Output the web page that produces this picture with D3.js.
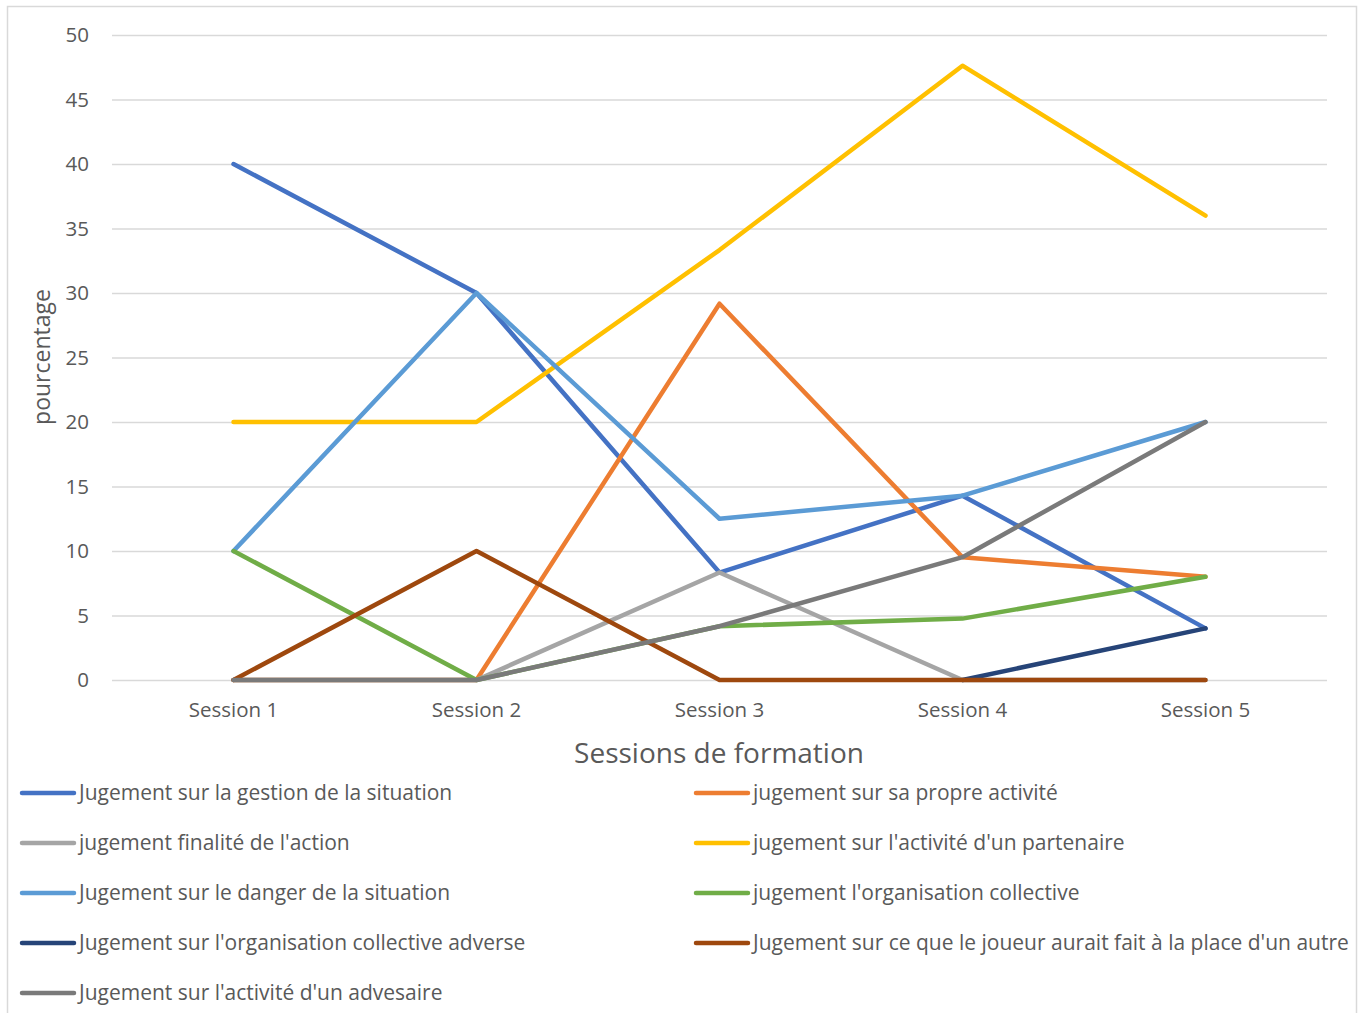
<!DOCTYPE html>
<html>
<head>
<meta charset="utf-8">
<script src="https://cdn.jsdelivr.net/npm/d3@7"></script>
<style>
  body { margin: 0; background: #fff; }
  text { font-family: "Open Sans", "Noto Sans", sans-serif; fill: #595959; }
</style>
</head>
<body>
<svg id="chart" width="1362" height="1013"></svg>
<script>
// categories and tick labels
var sessions = ["Session 1", "Session 2", "Session 3", "Session 4", "Session 5"];
var yTicks = [0, 5, 10, 15, 20, 25, 30, 35, 40, 45, 50];

// series values, null = no value
var gestionSituation = [40, 30, 8.33, 14.29, 4];
var propreActivite = [0, 0, 29.17, 9.52, 8];
var finaliteAction = [0, 0, 8.33, 0, 0];
var activitePartenaire = [20, 20, 33.33, 47.62, 36];
var dangerSituation = [10, 30, 12.5, 14.29, 20];
var organisationCollective = [10, 0, 4.17, 4.76, 8];
var organisationAdverse = [null, null, null, 0, 4];
var placeAutre = [0, 10, 0, 0, 0];
var activiteAdversaire = [0, 0, 4.17, 9.52, 20];

var seriesNames = [
    "Jugement sur la gestion de la situation",
    "jugement sur sa propre activité",
    "jugement finalité de l'action",
    "jugement sur l'activité d'un partenaire",
    "Jugement sur le danger de la situation",
    "jugement l'organisation collective",
    "Jugement sur l'organisation collective adverse",
    "Jugement sur ce que le joueur aurait fait à la place d'un autre",
    "Jugement sur l'activité d'un advesaire"
];
var seriesValues = [gestionSituation, propreActivite, finaliteAction, activitePartenaire,
    dangerSituation, organisationCollective, organisationAdverse, placeAutre, activiteAdversaire];
var seriesColors = ["#4472C4", "#ED7D31", "#A5A5A5", "#FFC000", "#5B9BD5",
    "#70AD47", "#264478", "#9E480E", "#7A7A7A"];

var svg = d3.select("#chart");
var margin = {left: 112, right: 1327, top: 35, bottom: 680};

// chart frame
svg.append("rect").attr("x", 7.5).attr("y", 6.5).attr("width", 1349).attr("height", 1012)
    .attr("fill", "none").attr("stroke", "#d9d9d9").attr("stroke-width", 1.5);

var x = d3.scaleBand().domain(sessions).range([margin.left, margin.right]);
var y = d3.scaleLinear().domain([0, 50]).range([margin.bottom, margin.top]);

// gridlines + y labels
var yAxis = d3.axisLeft(y).tickValues(yTicks).tickSize(-(margin.right - margin.left)).tickPadding(23);
var gy = svg.append("g").attr("transform", "translate(" + margin.left + ",0)").call(yAxis);
gy.select(".domain").remove();
gy.selectAll(".tick line").attr("stroke", "#d9d9d9").attr("stroke-width", 1.5);
gy.selectAll(".tick text").style("font-size", "20.5px").attr("fill", "#595959");

// x labels
var xAxis = d3.axisBottom(x).tickSize(0).tickPadding(22);
var gx = svg.append("g").attr("transform", "translate(0," + margin.bottom + ")").call(xAxis);
gx.select(".domain").remove();
gx.selectAll(".tick text").style("font-size", "20.5px").attr("fill", "#595959");

// axis titles
svg.append("text").attr("transform", "translate(50,357) rotate(-90)")
    .attr("text-anchor", "middle").style("font-size", "23px").text("pourcentage");
svg.append("text").attr("x", 719).attr("y", 763)
    .attr("text-anchor", "middle").style("font-size", "28px").text("Sessions de formation");

// lines
var line = d3.line()
    .defined(function(d) { return d !== null; })
    .x(function(d, i) { return x(sessions[i]) + x.bandwidth() / 2; })
    .y(function(d) { return y(d); });

seriesValues.forEach(function(vals, k) {
    svg.append("path").datum(vals).attr("d", line)
        .attr("fill", "none").attr("stroke", seriesColors[k]).attr("stroke-width", 4.5)
        .attr("stroke-linejoin", "round").attr("stroke-linecap", "round");
});

// legend, two columns filled row by row
var legend = svg.append("g");
seriesNames.forEach(function(name, k) {
    var col = k % 2, row = Math.floor(k / 2);
    var lx = col === 0 ? 22 : 696, ly = 793 + row * 50;
    var item = legend.append("g").attr("transform", "translate(" + lx + "," + ly + ")");
    item.append("line").attr("x1", 0).attr("x2", 52).attr("y1", 0).attr("y2", 0)
        .attr("stroke", seriesColors[k]).attr("stroke-width", 4.5).attr("stroke-linecap", "round");
    item.append("text").attr("x", 57).attr("y", 7)
        .style("font-size", "21px").text(name);
});
</script>
</body>
</html>
